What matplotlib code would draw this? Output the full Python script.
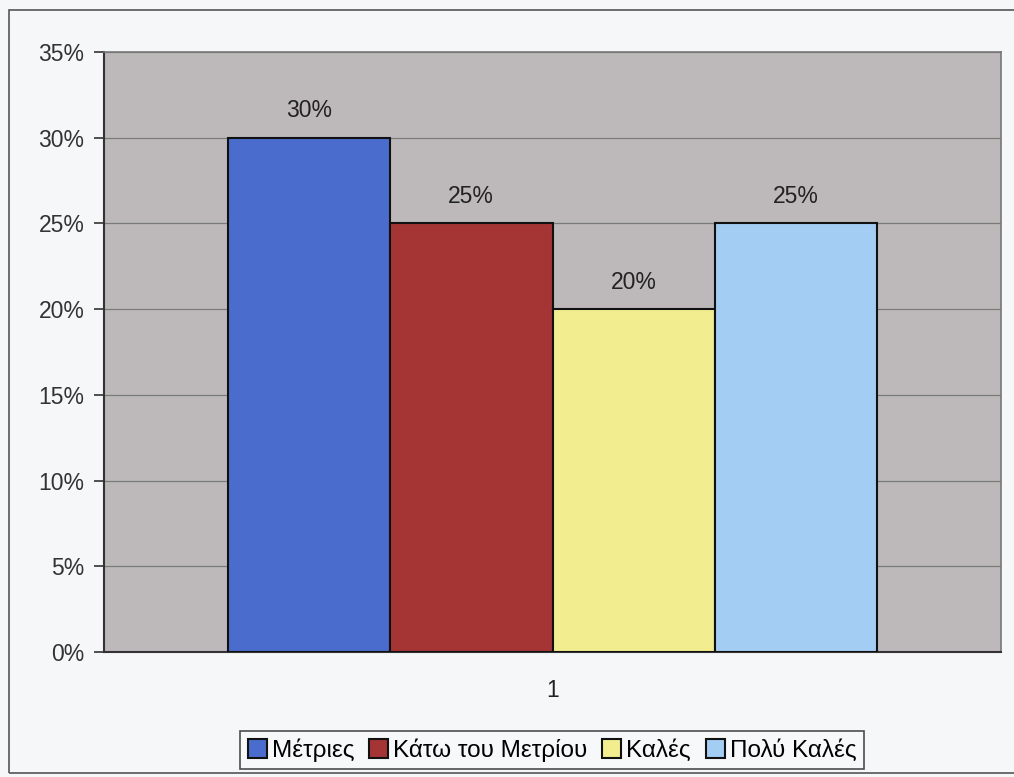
import matplotlib.pyplot as plt
from matplotlib.patches import Rectangle
from matplotlib.ticker import FuncFormatter

plt.rcParams["font.family"] = ["Liberation Sans", "DejaVu Sans"]

# Data
categories = ["Μέτριες", "Κάτω του Μετρίου", "Καλές", "Πολύ Καλές"]
values = [30, 25, 20, 25]
colors = ["#4a6ccc", "#a53535", "#f2ee90", "#a3cdf2"]
group_label = "1"
y_ticks = [0, 5, 10, 15, 20, 25, 30, 35]

fig = plt.figure(figsize=(10.14, 7.77), dpi=100)
fig.patch.set_facecolor("#f5f7f9")

# Outer chart border
fig.patches.append(Rectangle((9 / 1014, 1 - 773 / 777), 1.2, (773 - 10) / 777,
                             transform=fig.transFigure, fill=False,
                             edgecolor="#555555", linewidth=1.2))

ax = fig.add_axes([104 / 1014, 1 - 652 / 777, 897 / 1014, 600 / 777])
ax.set_facecolor("#bdb9ba")

FS = 16.5

n = len(values)
width = 0.7246 / n
offsets = [(i - (n - 1) / 2) * width for i in range(n)]
for off, val, col, lab in zip(offsets, values, colors, categories):
    ax.bar(off, val, width=width, color=col, edgecolor="#111111",
           linewidth=1.5, label=lab, zorder=3)
    ax.text(off, val + 0.9, f"{val}%", ha="center", va="bottom",
            fontsize=FS, color="#222222", zorder=4)

ax.set_xlim(-0.5, 0.5)
ax.set_ylim(0, 35)
ax.set_yticks(y_ticks)
ax.yaxis.set_major_formatter(FuncFormatter(lambda v, p: f"{v:.0f}%"))
ax.grid(axis="y", color="#7a7a7a", linewidth=0.9, zorder=0)
ax.set_axisbelow(True)

ax.set_xticks([-0.5, 0.5])
ax.set_xticklabels([])
ax.tick_params(axis="x", direction="in", length=0)
ax.text(0, -1.55, group_label, ha="center", va="top", fontsize=FS,
        color="#222222")

ax.tick_params(axis="y", labelsize=FS, length=7, width=1.2, colors="#333333",
               pad=7)
ax.tick_params(axis="y", labelcolor="#333333")

for side in ["top", "right"]:
    ax.spines[side].set_color("#777777")
    ax.spines[side].set_linewidth(1.2)
for side in ["left", "bottom"]:
    ax.spines[side].set_color("#333333")
    ax.spines[side].set_linewidth(1.5)

leg = fig.legend(loc="center", bbox_to_anchor=(552 / 1014, 1 - 750 / 777),
                 ncol=4, fontsize=17.5, frameon=True, fancybox=False,
                 handlelength=0.8, handleheight=0.8, handletextpad=0.2,
                 columnspacing=0.6, borderpad=0.3, borderaxespad=0,
                 edgecolor="#222222")
leg.get_frame().set_linewidth(1.2)
leg.get_frame().set_facecolor("#f8f9fb")

fig.savefig("out.png", dpi=100, facecolor=fig.get_facecolor())
